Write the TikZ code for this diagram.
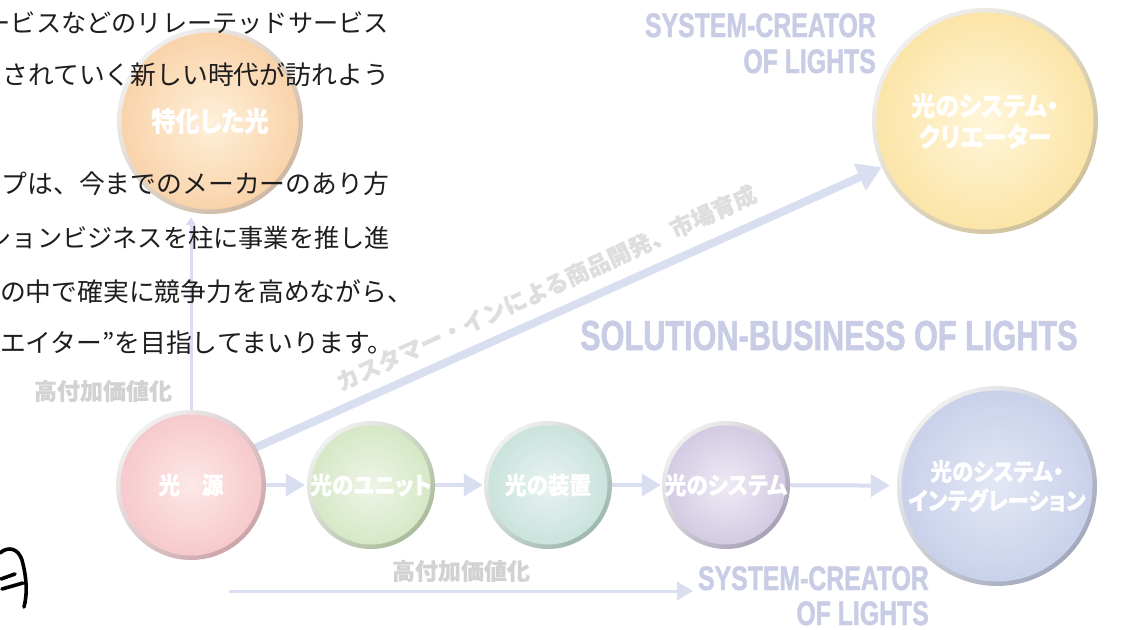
\documentclass[tikz,border=0pt]{standalone}
\usepackage{fontspec}
\usetikzlibrary{arrows.meta,backgrounds}
\newfontfamily\jpfont{Noto Sans CJK JP}
\newfontfamily\jpbfont[RawFeature=+palt,FakeStretch=0.9,FakeBold=0.6]{Noto Sans CJK JP}
\newfontfamily\jpgfont[RawFeature=+palt,FakeBold=0.6]{Noto Sans CJK JP}
\newfontfamily\jpbnfont[FakeBold=0.6]{Noto Sans CJK JP}
\newfontfamily\condfont[FakeStretch=0.73,FakeBold=1.2]{Liberation Sans}
\definecolor{arrowc}{HTML}{D9DEF0}
\definecolor{engc}{HTML}{C8CCE4}
\definecolor{grayc}{HTML}{D2D2D2}
\definecolor{diagc}{HTML}{DEDEDE}
\definecolor{bodyc}{HTML}{1E1E1E}
\definecolor{tokkaI}{HTML}{FEF0DA}\definecolor{tokkaO}{HTML}{F9D2A8}\definecolor{tokkaR}{HTML}{CDB8A2}
\definecolor{kogenI}{HTML}{FDE8E8}\definecolor{kogenO}{HTML}{F6C8CA}\definecolor{kogenR}{HTML}{CBA5A9}
\definecolor{unitI}{HTML}{EEF5E6}\definecolor{unitO}{HTML}{D4E7C4}\definecolor{unitR}{HTML}{AABB9B}
\definecolor{souchiI}{HTML}{E8F3F1}\definecolor{souchiO}{HTML}{C8E2DB}\definecolor{souchiR}{HTML}{9EB7AF}
\definecolor{systemI}{HTML}{EEEAF4}\definecolor{systemO}{HTML}{D2C9E2}\definecolor{systemR}{HTML}{A9A2B7}
\definecolor{integI}{HTML}{E3E8F5}\definecolor{integO}{HTML}{C8D0EA}\definecolor{integR}{HTML}{A3A9BC}
\definecolor{creatorI}{HTML}{FFF6DA}\definecolor{creatorO}{HTML}{FCE4A6}\definecolor{creatorR}{HTML}{CFC098}
\begin{document}
\begin{tikzpicture}[x=1pt,y=-1pt,
  ball/.style n args={4}{circle, minimum size=#1pt, inner sep=0pt,
    top color=white!94!black, bottom color=#4, shading angle=45,
    path picture={\shade[inner color=#2, outer color=#3]
      (path picture bounding box.center) circle[radius={#1/2-4.5}];},
    text=white, font=\jpbfont\bfseries\fontsize{24}{29}\selectfont, align=center},
  bigball/.style={font=\jpbfont\bfseries\fontsize{26.5}{31}\selectfont},
  body/.style={font=\jpfont\fontsize{25.8}{30}\selectfont, text=bodyc, inner sep=0pt},
  body2/.style={body, font=\jpfont\fontsize{25.2}{30}\selectfont},
  gtext/.style={font=\jpgfont\bfseries\fontsize{23}{26}\selectfont, text=grayc, inner sep=0pt},
  diagtext/.style={font=\jpbnfont\bfseries\fontsize{23}{26}\selectfont, text=diagc, inner sep=0pt},
  engtext/.style={font=\condfont\bfseries\fontsize{34}{36}\selectfont, text=engc, inner sep=0pt},
  conn/.style={draw=arrowc, fill=arrowc},
  hand/.style={draw=black, line width=3.6pt, line cap=round, line join=round}
]
\useasboundingbox (0,0) rectangle (1121,629);
\clip (0,0) rectangle (1121,629);

% circles
\node[ball={186}{tokkaI}{tokkaO}{tokkaR}, font=\jpbfont\bfseries\fontsize{27}{31}\selectfont] (tokka) at (210,121) {特化した光};
\node[ball={150}{kogenI}{kogenO}{kogenR}] (kogen) at (191,485) {光　源};
\node[ball={128}{unitI}{unitO}{unitR}] (unit) at (371,485) {光のユニット};
\node[ball={128}{souchiI}{souchiO}{souchiR}] (souchi) at (548,485) {光の装置};
\node[ball={128}{systemI}{systemO}{systemR}] (system) at (726,485) {光のシステム};
\node[ball={200}{integI}{integO}{integR}] (integ) at (997,486) {光のシステム・\\インテグレーション};
\node[ball={226}{creatorI}{creatorO}{creatorR}, bigball] (creator) at (985,121) {光のシステム・\\クリエーター};

\coordinate (botstart) at (229,591);
\coordinate (botend) at (693,591);

\begin{scope}[on background layer]
  \fill[white] (0,0) rectangle (1121,629);
  \draw[conn, line width=4pt, -{Triangle[length=19pt,width=22pt]}, shorten >=2pt] (kogen) -- (unit);
  \draw[conn, line width=4pt, -{Triangle[length=19pt,width=22pt]}, shorten >=1pt] (unit) -- (souchi);
  \draw[conn, line width=4pt, -{Triangle[length=19pt,width=22pt]}, shorten >=1pt] (souchi) -- (system);
  \draw[conn, line width=4pt, -{Triangle[length=19pt,width=22pt]}, shorten >=7pt] (system) -- (integ);
  \draw[conn, line width=8pt, -{Triangle[length=24pt,width=28pt]}, shorten <=-8pt] (kogen.30) -- (creator);
  \draw[conn, line width=3pt, -{Triangle[length=8pt,width=10pt]}, shorten >=3pt] (kogen.north) -- (kogen.north |- tokka.south);
  \draw[conn, line width=3pt, -{Triangle[length=16pt,width=18pt]}] (botstart) -- (botend);
\end{scope}

% body text
\node[body2, anchor=base east] (t1) at (389,32) {ービスなどのリレーテッドサービス};
\node[body, anchor=base east] (t2) at (389,84) {されていく新しい時代が訪れよう};
\node[body, anchor=base east] (t4) at (389,193) {プは、今までのメーカーのあり方};
\node[body2, anchor=base east] (t5) at (390,247) {ションビジネスを柱に事業を推し進};
\node[body, anchor=base west] (t6) at (0,301) {の中で確実に競争力を高めながら、};
\node[body, anchor=base west] (t7) at (0,352) {エイター”を目指してまいります。};

% labels
\node[gtext] (hv1) at (103,391) {高付加価値化};
\node[gtext] (hv2) at (461,571) {高付加価値化};
\node[diagtext, rotate=24.6] (cust) at (546,288) {カスタマー・インによる商品開発、市場育成};

\node[engtext, anchor=base east] (sc1) at (876,37) {SYSTEM-CREATOR};
\node[engtext, anchor=base east] (ol1) at (876,73) {OF LIGHTS};
\node[engtext, anchor=base east] (sc2) at (929,590) {SYSTEM-CREATOR};
\node[engtext, anchor=base east] (ol2) at (929,625) {OF LIGHTS};
\node[engtext, font=\condfont\bfseries\fontsize{42}{46}\selectfont, anchor=base west] (sol) at (580,350) {SOLUTION-BUSINESS OF LIGHTS};

% hand-drawn fragment
\draw[hand] (0,553) .. controls (8,546) and (18,548) .. (22,560) .. controls (26,575) and (28,592) .. (24,607);
\draw[hand] (1,579) -- (15,574);
\draw[hand] (2,589) -- (23,583);
\end{tikzpicture}
\end{document}
